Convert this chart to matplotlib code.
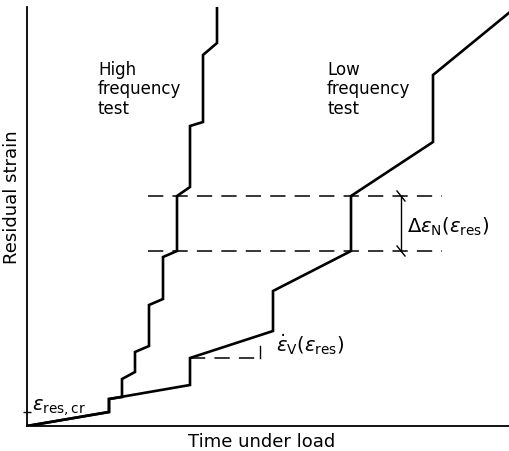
import matplotlib
matplotlib.use("Agg")
import matplotlib.pyplot as plt

plt.rcParams['font.family'] = ['DejaVu Sans']
plt.rcParams['mathtext.fontset'] = 'dejavusans'

# High frequency test curve (time, residual strain)
hf_time = [0, 82, 82, 95, 95, 108, 108, 122, 122, 136, 136, 150, 150, 163, 163, 176, 176, 190, 190]
hf_strain = [0, 14, 27, 29, 47, 54, 74, 80, 121, 127, 169, 175, 230, 239, 300, 304, 371, 383, 421]

# Low frequency test curve
lf_time = [0, 82, 82, 163, 163, 246, 246, 324, 324, 406, 406, 483]
lf_strain = [0, 14, 27, 41, 68, 95, 135, 175, 230, 284, 351, 414]

# reference levels
level_low = 175
level_high = 230
dash_start, dash_end = 121, 415
dim_x = 374
creep_t0, creep_t1 = 163, 233
creep_level = 68
creep_top = 80
eps_cr = 14

fig = plt.figure(figsize=(5.10, 4.52), dpi=100)
ax = fig.add_axes([27/510, (452-427)/452, 483/510, 419/452])
ax.set_xlim(0, 483)
ax.set_ylim(0, 419)

for s in ['top', 'right']:
    ax.spines[s].set_visible(False)
for s in ['left', 'bottom']:
    ax.spines[s].set_linewidth(1.3)
ax.set_xticks([])
ax.set_yticks([eps_cr])
ax.set_yticklabels([])
ax.tick_params(axis='y', direction='inout', length=6, width=1.0)

lw = 1.9
ax.plot(hf_time, hf_strain, color='black', lw=lw, solid_joinstyle='miter', clip_on=True)
ax.plot(lf_time, lf_strain, color='black', lw=lw, solid_joinstyle='miter', clip_on=True)

# dashed horizontal levels
for lev in (level_low, level_high):
    ax.plot([dash_start, dash_end], [lev, lev], color='black', lw=1.1,
            dashes=(10, 6))

# dimension line
ax.plot([dim_x, dim_x], [level_low, level_high], color='black', lw=1.0)
for lev in (level_low, level_high):
    ax.plot([dim_x - 4, dim_x + 4], [lev + 5, lev - 5], color='black', lw=1.0)

# creep rate triangle
ax.plot([creep_t0, creep_t1], [creep_level, creep_level], color='black', lw=1.1,
        dashes=(10, 6))
ax.plot([creep_t1, creep_t1], [creep_level, creep_top], color='black', lw=1.0)

fs = 12
mfs = 14
ax.text(71, 366, 'High\nfrequency\ntest', fontsize=fs, va='top', ha='left', linespacing=1.1)
ax.text(300, 366, 'Low\nfrequency\ntest', fontsize=fs, va='top', ha='left', linespacing=1.1)
ax.text(380, 200, r'$\Delta\varepsilon_{\mathrm{N}}(\varepsilon_{\mathrm{res}})$', fontsize=mfs,
        va='center', ha='left')
ax.text(249, 82, r'$\dot{\varepsilon}_{\mathrm{V}}(\varepsilon_{\mathrm{res}})$', fontsize=mfs,
        va='center', ha='left')
ax.text(5, 9, r'$\varepsilon_{\mathrm{res,cr}}$', fontsize=mfs, va='bottom', ha='left')

fig.text(12/510, 1 - 197/452, 'Residual strain', rotation=90, fontsize=13,
         ha='center', va='center')
fig.text(262/510, 1 - 442/452, 'Time under load', fontsize=13, ha='center', va='center')

fig.savefig('out.png', dpi=100)
